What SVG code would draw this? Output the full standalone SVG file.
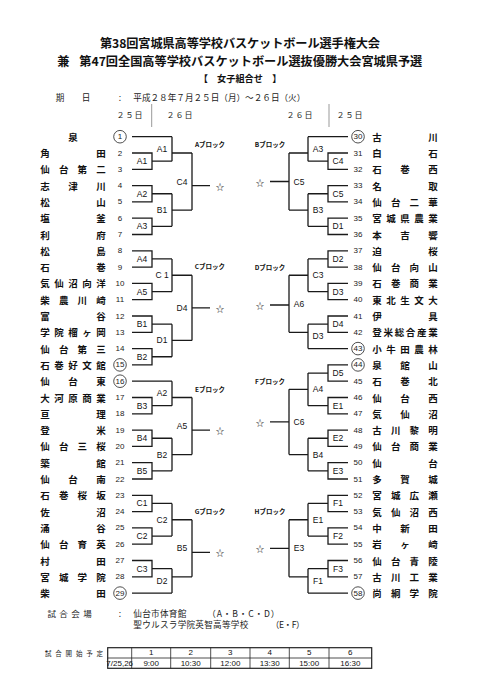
<svg xmlns="http://www.w3.org/2000/svg" width="481" height="680" viewBox="0 0 481 680">
<style>
.t{font-family:'Noto Sans CJK JP',sans-serif;font-weight:bold;fill:#111;dominant-baseline:central}
.h{font-family:'Noto Sans CJK JP',sans-serif;fill:#222;dominant-baseline:central}
.n{font-family:'Noto Sans CJK JP',sans-serif;font-size:9.5px;font-weight:bold;text-anchor:middle;dominant-baseline:central;fill:#111}
.d{font-family:'Liberation Sans',Arial,sans-serif;font-size:8px;text-anchor:middle;dominant-baseline:central;fill:#222}
.c{fill:none;stroke:#222;stroke-width:0.8}
.lb{font-family:'Liberation Sans',Arial,sans-serif;font-size:8.5px;text-anchor:middle;dominant-baseline:central;fill:#111}
.bk{font-family:'Noto Sans CJK JP',sans-serif;font-size:6.5px;font-weight:bold;text-anchor:middle;dominant-baseline:central;fill:#111}
.st{font-family:'Noto Sans CJK JP',sans-serif;font-size:8.5px;text-anchor:middle;dominant-baseline:central;fill:#111}
.br{fill:none;stroke:#1a1a1a;stroke-width:1.3}
.tb{font-family:'Liberation Sans',Arial,sans-serif;font-size:8px;text-anchor:middle;dominant-baseline:central;fill:#111}
</style>
<rect width="481" height="680" fill="#fff"/>
<g id="header">
<text class="t" x="100" y="42.7" font-size="12.2" textLength="280">第38回宮城県高等学校バスケットボール選手権大会</text>
<text class="t" x="57.3" y="61" font-size="12.2">兼</text>
<text class="t" x="79.3" y="61" font-size="12.2" textLength="343">第47回全国高等学校バスケットボール選抜優勝大会宮城県予選</text>
<text class="t" x="240" y="77.7" font-size="9.2" text-anchor="middle">【　女子組合せ　】</text>
<text class="h" x="60 86" y="96.7" font-size="8.6" text-anchor="middle">期日</text>
<text class="h" x="120" y="96.7" font-size="8.6" text-anchor="middle">:</text>
<text class="h" x="133.3" y="96.7" font-size="8.6" textLength="172">平成２８年７月２５日（月）～２６日（火）</text>
<text class="h" x="130" y="114" font-size="8" text-anchor="middle" letter-spacing="1">２５日</text>
<text class="h" x="180" y="114" font-size="8" text-anchor="middle" letter-spacing="1">２６日</text>
<text class="h" x="300" y="114" font-size="8" text-anchor="middle" letter-spacing="1">２６日</text>
<text class="h" x="350" y="114" font-size="8" text-anchor="middle" letter-spacing="1">２５日</text>
<line x1="151.7" y1="104" x2="151.7" y2="127" stroke="#999" stroke-width="1"/>
<line x1="329" y1="104" x2="329" y2="127" stroke="#999" stroke-width="1"/>
</g>
<g id="connectors" class="br">
<path d="M132 136.7H172M132 153H152V169.3H132M152 161.15H172M132 185.6H152V201.9H132M152 193.75H172M132 218.2H152V234.5H132M152 226.35H172M172 136.7V161.15M172 153H192M172 193.75V226.35M172 210.05H192M192 153V210.05M192 185.6H210"/>
<path d="M132 250.8H152V267.1H132M152 258.95H172M132 283.4H152V299.7H132M152 291.55H172M132 316H152V332.3H132M152 324.15H172M132 348.6H152V364.9H132M152 356.75H172M172 258.95V291.55M172 275.25H192M172 324.15V356.75M172 340.45H192M192 275.25V340.45M192 307.85H210"/>
<path d="M132 381.2H172M132 397.5H152V413.8H132M152 405.65H172M132 430.1H152V446.4H132M152 438.25H172M132 462.7H152V479H132M152 470.85H172M172 381.2V405.65M172 397.5H192M172 438.25V470.85M172 454.55H192M192 397.5V454.55M192 430.1H210"/>
<path d="M132 495.3H152V511.6H132M152 503.45H172M132 527.9H152V544.2H132M152 536.05H172M132 560.5H152V576.8H132M152 568.65H172M132 593.1H172M172 503.45V536.05M172 519.75H192M172 568.65V593.1M172 576.8H192M192 519.75V576.8M192 552.35H210"/>
<path d="M348 136.7H308M348 153H328V169.3H348M328 161.15H308M348 185.6H328V201.9H348M328 193.75H308M348 218.2H328V234.5H348M328 226.35H308M308 136.7V161.15M308 153H289M308 193.75V226.35M308 210.05H289M289 153V210.05M289 181.5H270"/>
<path d="M348 250.8H328V267.1H348M328 258.95H308M348 283.4H328V299.7H348M328 291.55H308M348 316H328V332.3H348M328 324.15H308M348 348.6H308M308 258.95V291.55M308 275.25H289M308 324.15V348.6M308 332.3H289M289 275.25V332.3M289 305H270"/>
<path d="M348 364.9H328V381.2H348M328 373.05H308M348 397.5H328V413.8H348M328 405.65H308M348 430.1H328V446.4H348M328 438.25H308M348 462.7H328V479H348M328 470.85H308M308 373.05V405.65M308 389.35H289M308 438.25V470.85M308 454.55H289M289 389.35V454.55M289 421.95H270"/>
<path d="M348 495.3H328V511.6H348M328 503.45H308M348 527.9H328V544.2H348M328 536.05H308M348 560.5H328V576.8H348M328 568.65H308M348 593.1H308M308 503.45V536.05M308 519.75H289M308 568.65V593.1M308 576.8H289M289 519.75V576.8M289 548.3H270"/>
</g>
<g id="blockA">
<text class="bk" x="210" y="144">Aブロック</text>
<g id="mA1a"><text class="lb" x="142" y="161.15">A1</text></g>
<g id="mA2"><text class="lb" x="142" y="193.75">A2</text></g>
<g id="mA3"><text class="lb" x="142" y="226.35">A3</text></g>
<g id="mA1b"><text class="lb" x="162" y="148.9">A1</text></g>
<g id="mB1a"><text class="lb" x="162" y="210.05">B1</text></g>
<g id="mC4a"><text class="lb" x="182" y="181.5">C4</text></g>
<g id="winA"><text class="st" x="220" y="185.6">☆</text></g>
</g>
<g id="blockC">
<text class="bk" x="210" y="266">Cブロック</text>
<g id="mA4a"><text class="lb" x="142" y="258.95">A4</text></g>
<g id="mA5a"><text class="lb" x="142" y="291.55">A5</text></g>
<g id="mB1b"><text class="lb" x="142" y="324.15">B1</text></g>
<g id="mB2a"><text class="lb" x="142" y="356.75">B2</text></g>
<g id="mC1a"><text class="lb" x="162" y="275.25">C 1</text></g>
<g id="mD1a"><text class="lb" x="162" y="340.45">D1</text></g>
<g id="mD4a"><text class="lb" x="182" y="307.85">D4</text></g>
<g id="winC"><text class="st" x="220" y="307.85">☆</text></g>
</g>
<g id="blockE">
<text class="bk" x="210" y="389">Eブロック</text>
<g id="mB3a"><text class="lb" x="142" y="405.65">B3</text></g>
<g id="mB4a"><text class="lb" x="142" y="438.25">B4</text></g>
<g id="mB5a"><text class="lb" x="142" y="470.85">B5</text></g>
<g id="mA2b"><text class="lb" x="162" y="393.4">A2</text></g>
<g id="mB2b"><text class="lb" x="162" y="454.55">B2</text></g>
<g id="mA5b"><text class="lb" x="182" y="426">A5</text></g>
<g id="winE"><text class="st" x="220" y="430.1">☆</text></g>
</g>
<g id="blockG">
<text class="bk" x="210" y="511">Gブロック</text>
<g id="mC1b"><text class="lb" x="142" y="503.45">C1</text></g>
<g id="mC2a"><text class="lb" x="142" y="536.05">C2</text></g>
<g id="mC3a"><text class="lb" x="142" y="568.65">C3</text></g>
<g id="mC2b"><text class="lb" x="162" y="519.75">C2</text></g>
<g id="mD2a"><text class="lb" x="162" y="580.9">D2</text></g>
<g id="mB5b"><text class="lb" x="182" y="548.3">B5</text></g>
<g id="winG"><text class="st" x="220" y="552.35">☆</text></g>
</g>
<g id="blockB">
<text class="bk" x="270" y="143.5">Bブロック</text>
<g id="mC4b"><text class="lb" x="338" y="161.15">C4</text></g>
<g id="mC5a"><text class="lb" x="338" y="193.75">C5</text></g>
<g id="mD1b"><text class="lb" x="338" y="226.35">D1</text></g>
<g id="mA3b"><text class="lb" x="318" y="148.9">A3</text></g>
<g id="mB3b"><text class="lb" x="318" y="210.05">B3</text></g>
<g id="mC5b"><text class="lb" x="299" y="181.5">C5</text></g>
<g id="winB"><text class="st" x="260" y="181.5">☆</text></g>
</g>
<g id="blockD">
<text class="bk" x="270" y="267">Dブロック</text>
<g id="mD2b"><text class="lb" x="338" y="258.95">D2</text></g>
<g id="mD3a"><text class="lb" x="338" y="291.55">D3</text></g>
<g id="mD4b"><text class="lb" x="338" y="324.15">D4</text></g>
<g id="mC3b"><text class="lb" x="318" y="275.25">C3</text></g>
<g id="mD3b"><text class="lb" x="318" y="336.4">D3</text></g>
<g id="mA6"><text class="lb" x="299" y="303.8">A6</text></g>
<g id="winD"><text class="st" x="260" y="305">☆</text></g>
</g>
<g id="blockF">
<text class="bk" x="270" y="381">Fブロック</text>
<g id="mD5"><text class="lb" x="338" y="373.05">D5</text></g>
<g id="mE1a"><text class="lb" x="338" y="405.65">E1</text></g>
<g id="mE2"><text class="lb" x="338" y="438.25">E2</text></g>
<g id="mE3a"><text class="lb" x="338" y="470.85">E3</text></g>
<g id="mA4b"><text class="lb" x="318" y="389.35">A4</text></g>
<g id="mB4b"><text class="lb" x="318" y="454.55">B4</text></g>
<g id="mC6"><text class="lb" x="299" y="421.95">C6</text></g>
<g id="winF"><text class="st" x="260" y="421.95">☆</text></g>
</g>
<g id="blockH">
<text class="bk" x="270" y="511">Hブロック</text>
<g id="mF1a"><text class="lb" x="338" y="503.45">F1</text></g>
<g id="mF2"><text class="lb" x="338" y="536.05">F2</text></g>
<g id="mF3"><text class="lb" x="338" y="568.65">F3</text></g>
<g id="mE1b"><text class="lb" x="318" y="519.75">E1</text></g>
<g id="mF1b"><text class="lb" x="318" y="580.9">F1</text></g>
<g id="mE3b"><text class="lb" x="299" y="548.3">E3</text></g>
<g id="winH"><text class="st" x="260" y="548.3">☆</text></g>
</g>
<g id="teamsLeft">
<g id="t1" transform="translate(0,136.7)"><text class="n" x="73">泉</text><circle class="c" cx="120" r="6.3"/><text class="d" x="120">1</text></g>
<g id="t2" transform="translate(0,153)"><text class="n" x="45 101">角田</text><text class="d" x="120">2</text></g>
<g id="t3" transform="translate(0,169.3)"><text class="n" x="45 63.67 82.33 101">仙台第二</text><text class="d" x="120">3</text></g>
<g id="t4" transform="translate(0,185.6)"><text class="n" x="45 73 101">志津川</text><text class="d" x="120">4</text></g>
<g id="t5" transform="translate(0,201.9)"><text class="n" x="45 101">松山</text><text class="d" x="120">5</text></g>
<g id="t6" transform="translate(0,218.2)"><text class="n" x="45 101">塩釜</text><text class="d" x="120">6</text></g>
<g id="t7" transform="translate(0,234.5)"><text class="n" x="45 101">利府</text><text class="d" x="120">7</text></g>
<g id="t8" transform="translate(0,250.8)"><text class="n" x="45 101">松島</text><text class="d" x="120">8</text></g>
<g id="t9" transform="translate(0,267.1)"><text class="n" x="45 101">石巻</text><text class="d" x="120">9</text></g>
<g id="t10" transform="translate(0,283.4)"><text class="n" x="45 59 73 87 101">気仙沼向洋</text><text class="d" x="120">10</text></g>
<g id="t11" transform="translate(0,299.7)"><text class="n" x="45 63.67 82.33 101">柴農川崎</text><text class="d" x="120">11</text></g>
<g id="t12" transform="translate(0,316)"><text class="n" x="45 101">富谷</text><text class="d" x="120">12</text></g>
<g id="t13" transform="translate(0,332.3)"><text class="n" x="45 59 73 87 101">学院榴ヶ岡</text><text class="d" x="120">13</text></g>
<g id="t14" transform="translate(0,348.6)"><text class="n" x="45 63.67 82.33 101">仙台第三</text><text class="d" x="120">14</text></g>
<g id="t15" transform="translate(0,364.9)"><text class="n" x="45 59 73 87 101">石巻好文館</text><circle class="c" cx="120" r="6.3"/><text class="d" x="120">15</text></g>
<g id="t16" transform="translate(0,381.2)"><text class="n" x="45 73 101">仙台東</text><circle class="c" cx="120" r="6.3"/><text class="d" x="120">16</text></g>
<g id="t17" transform="translate(0,397.5)"><text class="n" x="45 59 73 87 101">大河原商業</text><text class="d" x="120">17</text></g>
<g id="t18" transform="translate(0,413.8)"><text class="n" x="45 101">亘理</text><text class="d" x="120">18</text></g>
<g id="t19" transform="translate(0,430.1)"><text class="n" x="45 101">登米</text><text class="d" x="120">19</text></g>
<g id="t20" transform="translate(0,446.4)"><text class="n" x="45 63.67 82.33 101">仙台三桜</text><text class="d" x="120">20</text></g>
<g id="t21" transform="translate(0,462.7)"><text class="n" x="45 101">築館</text><text class="d" x="120">21</text></g>
<g id="t22" transform="translate(0,479)"><text class="n" x="45 73 101">仙台南</text><text class="d" x="120">22</text></g>
<g id="t23" transform="translate(0,495.3)"><text class="n" x="45 63.67 82.33 101">石巻桜坂</text><text class="d" x="120">23</text></g>
<g id="t24" transform="translate(0,511.6)"><text class="n" x="45 101">佐沼</text><text class="d" x="120">24</text></g>
<g id="t25" transform="translate(0,527.9)"><text class="n" x="45 101">涌谷</text><text class="d" x="120">25</text></g>
<g id="t26" transform="translate(0,544.2)"><text class="n" x="45 63.67 82.33 101">仙台育英</text><text class="d" x="120">26</text></g>
<g id="t27" transform="translate(0,560.5)"><text class="n" x="45 101">村田</text><text class="d" x="120">27</text></g>
<g id="t28" transform="translate(0,576.8)"><text class="n" x="45 63.67 82.33 101">宮城学院</text><text class="d" x="120">28</text></g>
<g id="t29" transform="translate(0,593.1)"><text class="n" x="45 101">柴田</text><circle class="c" cx="120" r="6.3"/><text class="d" x="120">29</text></g>
</g>
<g id="teamsRight">
<g id="t30" transform="translate(0,136.7)"><circle class="c" cx="358" r="6.3"/><text class="d" x="358">30</text><text class="n" x="377 433">古川</text></g>
<g id="t31" transform="translate(0,153)"><text class="d" x="358">31</text><text class="n" x="377 433">白石</text></g>
<g id="t32" transform="translate(0,169.3)"><text class="d" x="358">32</text><text class="n" x="377 405 433">石巻西</text></g>
<g id="t33" transform="translate(0,185.6)"><text class="d" x="358">33</text><text class="n" x="377 433">名取</text></g>
<g id="t34" transform="translate(0,201.9)"><text class="d" x="358">34</text><text class="n" x="377 395.67 414.33 433">仙台二華</text></g>
<g id="t35" transform="translate(0,218.2)"><text class="d" x="358">35</text><text class="n" x="377 391 405 419 433">宮城県農業</text></g>
<g id="t36" transform="translate(0,234.5)"><text class="d" x="358">36</text><text class="n" x="377 405 433">本吉響</text></g>
<g id="t37" transform="translate(0,250.8)"><text class="d" x="358">37</text><text class="n" x="377 433">迫桜</text></g>
<g id="t38" transform="translate(0,267.1)"><text class="d" x="358">38</text><text class="n" x="377 395.67 414.33 433">仙台向山</text></g>
<g id="t39" transform="translate(0,283.4)"><text class="d" x="358">39</text><text class="n" x="377 395.67 414.33 433">石巻商業</text></g>
<g id="t40" transform="translate(0,299.7)"><text class="d" x="358">40</text><text class="n" x="377 391 405 419 433">東北生文大</text></g>
<g id="t41" transform="translate(0,316)"><text class="d" x="358">41</text><text class="n" x="377 433">伊具</text></g>
<g id="t42" transform="translate(0,332.3)"><text class="d" x="358">42</text><text class="n" x="377 388.2 399.4 410.6 421.8 433">登米総合産業</text></g>
<g id="t43" transform="translate(0,348.6)"><circle class="c" cx="358" r="6.3"/><text class="d" x="358">43</text><text class="n" x="377 391 405 419 433">小牛田農林</text></g>
<g id="t44" transform="translate(0,364.9)"><circle class="c" cx="358" r="6.3"/><text class="d" x="358">44</text><text class="n" x="377 405 433">泉館山</text></g>
<g id="t45" transform="translate(0,381.2)"><text class="d" x="358">45</text><text class="n" x="377 405 433">石巻北</text></g>
<g id="t46" transform="translate(0,397.5)"><text class="d" x="358">46</text><text class="n" x="377 405 433">仙台西</text></g>
<g id="t47" transform="translate(0,413.8)"><text class="d" x="358">47</text><text class="n" x="377 405 433">気仙沼</text></g>
<g id="t48" transform="translate(0,430.1)"><text class="d" x="358">48</text><text class="n" x="377 395.67 414.33 433">古川黎明</text></g>
<g id="t49" transform="translate(0,446.4)"><text class="d" x="358">49</text><text class="n" x="377 395.67 414.33 433">仙台商業</text></g>
<g id="t50" transform="translate(0,462.7)"><text class="d" x="358">50</text><text class="n" x="377 433">仙台</text></g>
<g id="t51" transform="translate(0,479)"><text class="d" x="358">51</text><text class="n" x="377 405 433">多賀城</text></g>
<g id="t52" transform="translate(0,495.3)"><text class="d" x="358">52</text><text class="n" x="377 395.67 414.33 433">宮城広瀬</text></g>
<g id="t53" transform="translate(0,511.6)"><text class="d" x="358">53</text><text class="n" x="377 395.67 414.33 433">気仙沼西</text></g>
<g id="t54" transform="translate(0,527.9)"><text class="d" x="358">54</text><text class="n" x="377 405 433">中新田</text></g>
<g id="t55" transform="translate(0,544.2)"><text class="d" x="358">55</text><text class="n" x="377 405 433">岩ヶ崎</text></g>
<g id="t56" transform="translate(0,560.5)"><text class="d" x="358">56</text><text class="n" x="377 395.67 414.33 433">仙台青陵</text></g>
<g id="t57" transform="translate(0,576.8)"><text class="d" x="358">57</text><text class="n" x="377 395.67 414.33 433">古川工業</text></g>
<g id="t58" transform="translate(0,593.1)"><circle class="c" cx="358" r="6.3"/><text class="d" x="358">58</text><text class="n" x="377 395.67 414.33 433">尚絅学院</text></g>
</g>
<g id="venue">
<text class="h" x="51.7 63.5 75.5 87.5" y="613.3" font-size="8.5" text-anchor="middle">試合会場</text>
<text class="h" x="120" y="613.3" font-size="8.5" text-anchor="middle">:</text>
<text class="h" x="133.3" y="613.3" font-size="8.6" textLength="53">仙台市体育館</text>
<text class="h" x="207.3" y="613.3" font-size="8.6" textLength="72">（A・B・C・D）</text>
<text class="h" x="133.3" y="624.3" font-size="8.6" textLength="115">聖ウルスラ学院英智高等学校</text>
<text class="h" x="270.7" y="624.3" font-size="8.6" textLength="34">（E・F）</text>
</g>
<g id="schedule">
<text class="h" x="45" y="652.8" font-size="6.5" textLength="58">試合開始予定</text>
<rect x="107.7" y="647.7" width="264" height="20.6" fill="none" stroke="#222" stroke-width="1.2"/>
<path d="M107.7 658H371.7M131.7 647.7V668.3M170.7 647.7V668.3M210.7 647.7V668.3M250 647.7V668.3M289.3 647.7V668.3M329 647.7V668.3" fill="none" stroke="#222" stroke-width="0.8"/>
<text class="tb" x="151.2" y="652.9">1</text>
<text class="tb" x="190.7" y="652.9">2</text>
<text class="tb" x="230.35" y="652.9">3</text>
<text class="tb" x="269.65" y="652.9">4</text>
<text class="tb" x="309.15" y="652.9">5</text>
<text class="tb" x="350.35" y="652.9">6</text>
<text class="tb" x="119.7" y="663.2" font-size="3.6">7/25,26</text>
<text class="tb" x="151.2" y="663.2">9:00</text>
<text class="tb" x="190.7" y="663.2">10:30</text>
<text class="tb" x="230.35" y="663.2">12:00</text>
<text class="tb" x="269.65" y="663.2">13:30</text>
<text class="tb" x="309.15" y="663.2">15:00</text>
<text class="tb" x="350.35" y="663.2">16:30</text>
</g>
</svg>
